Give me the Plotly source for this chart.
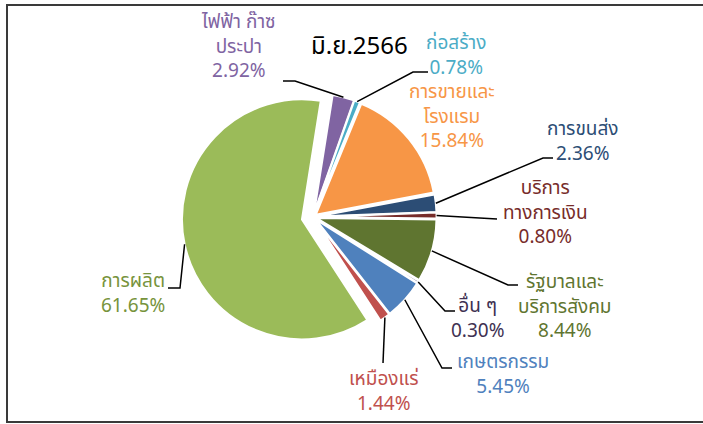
import math
import plotly.graph_objects as go

# ---------------- data ----------------
categories = ["ไฟฟ้า ก๊าซ ประปา", "ก่อสร้าง", "การขายและโรงแรม", "การขนส่ง",
              "บริการทางการเงิน", "รัฐบาลและบริการสังคม", "อื่น ๆ",
              "เกษตรกรรม", "เหมืองแร่", "การผลิต"]
label_names = ["ไฟฟ้า ก๊าซ<br>ประปา", "ก่อสร้าง", "การขายและ<br>โรงแรม", "การขนส่ง",
               "บริการ<br>ทางการเงิน", "รัฐบาลและ<br>บริการสังคม", "อื่น ๆ",
               "เกษตรกรรม", "เหมืองแร่", "การผลิต"]
shares = [2.92, 0.78, 15.84, 2.36, 0.80, 8.44, 0.30, 5.45, 1.44, 61.65]
title_text = "มิ.ย.2566"

# ---------------- style ----------------
slice_colors = ["#8064A2", "#4BACC6", "#F79646", "#2C4D75", "#772C2A",
                "#5F7530", "#403152", "#4F81BD", "#C0504D", "#9BBB59"]
text_colors = ["#8064A2", "#4BACC6", "#F79646", "#2C4D75", "#772C2A",
               "#5F7530", "#403152", "#4F81BD", "#C0504D", "#77933C"]
pulls = [0.03, 0.03, 0.03, 0.03, 0.03, 0.03, 0.03, 0.03, 0.03, 0.094]

W, H = 703, 424
CX, CY, R = 313, 217, 120
ROT = 9
FONT = "Tahoma, 'Noto Sans Thai', 'Noto Sans', sans-serif"
FS = 19

# label block centres (px) and leader elbow / end points (px)
label_pos = [(238, 47), (456, 56), (452, 117), (583, 142), (545, 213),
             (565, 307), (478, 319), (503, 375), (383, 392), (133, 294)]
leader_pts = [[(295, 81), (283, 81)], [(413, 72), (428, 72)], None,
              [(543, 158), (553, 158)], [(497, 219)],
              [(508, 285), (518, 285)], [(445, 311), (455, 311)],
              [(442, 368), (452, 368)], [(383, 363)],
              [(180, 288), (168, 288)]]

maxpull = max(pulls)
half = R * (1 + maxpull)
dom_x = [(CX - half) / W, (CX + half) / W]
dom_y = [(H - CY - half) / H, (H - CY + half) / H]

def px(x):
    return x / W

def py(y):
    return 1 - y / H

fig = go.Figure()
fig.add_trace(go.Pie(
    labels=categories, values=shares, sort=False, direction="clockwise",
    rotation=ROT, pull=pulls, textinfo="none", hoverinfo="label+percent",
    marker=dict(colors=slice_colors, line=dict(color="white", width=2)),
    domain=dict(x=dom_x, y=dom_y), showlegend=False,
))

total = sum(shares)
cum = 0.0
shapes = []
annotations = []
for i, v in enumerate(shares):
    a0 = ROT + 360 * cum / total
    cum += v
    a1 = ROT + 360 * cum / total
    mid = math.radians((a0 + a1) / 2)
    rr = R * (1 + pulls[i])
    ex, ey = CX + rr * math.sin(mid), CY - rr * math.cos(mid)
    lx, ly = label_pos[i]
    annotations.append(dict(
        x=px(lx), y=py(ly), xref="paper", yref="paper", showarrow=False,
        text=f"{label_names[i]}<br>{v:.2f}%", align="center",
        xanchor="center", yanchor="middle", borderpad=0,
        font=dict(family=FONT, size=FS, color=text_colors[i]),
    ))
    if leader_pts[i]:
        pts = [(ex, ey)] + leader_pts[i]
        path = "M " + " L ".join(f"{px(x):.5f},{py(y):.5f}" for x, y in pts)
        shapes.append(dict(type="path", path=path, xref="paper", yref="paper",
                           line=dict(color="black", width=1.5)))

annotations.append(dict(
    x=px(359), y=py(47), xref="paper", yref="paper", showarrow=False,
    text=title_text, xanchor="center", yanchor="middle", borderpad=0,
    font=dict(family=FONT, size=24, color="black"),
))

shapes.append(dict(type="rect", xref="paper", yref="paper",
                   x0=px(7), x1=px(720), y0=py(422), y1=py(5),
                   line=dict(color="#3a3a3a", width=2), fillcolor="rgba(0,0,0,0)"))

fig.update_layout(
    width=W, height=H, margin=dict(l=0, r=0, t=0, b=0),
    paper_bgcolor="white", plot_bgcolor="white",
    shapes=shapes, annotations=annotations,
)

fig.write_html("out.html", config={"displayModeBar": False},
               post_script="document.body.style.margin='0';")
